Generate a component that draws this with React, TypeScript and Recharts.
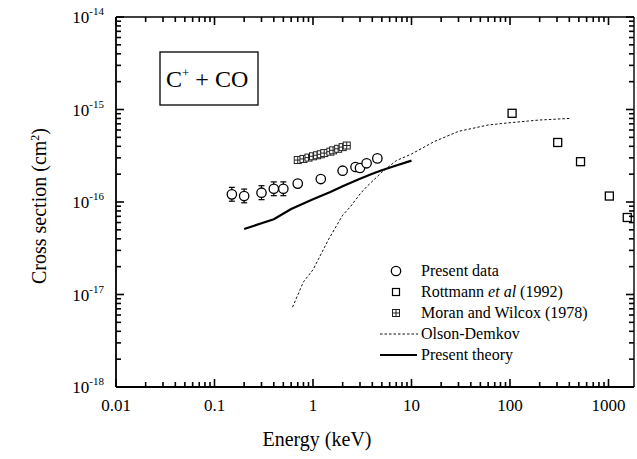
import React from "react";
import { ComposedChart, Scatter, XAxis, YAxis, ErrorBar, Legend } from "recharts";

const FONT = '"Liberation Serif", "Times New Roman", serif';

// Present data (open circles), energy in keV, cross section in cm^2
const presentE = [0.15, 0.2, 0.3, 0.4, 0.5, 0.7, 1.2, 2, 2.7, 3, 3.5, 4.5];
const presentSigma = [
  1.21e-16, 1.16e-16, 1.26e-16, 1.39e-16, 1.39e-16, 1.58e-16, 1.77e-16,
  2.18e-16, 2.39e-16, 2.33e-16, 2.62e-16, 2.96e-16,
];
// error bars only on the first five points
const presentErrLow = [0.19e-16, 0.18e-16, 0.2e-16, 0.22e-16, 0.22e-16];
const presentErrHigh = [0.23e-16, 0.22e-16, 0.24e-16, 0.26e-16, 0.26e-16];

// Rottmann et al (1992)
const rottmannE = [105, 305, 520, 1020, 1550];
const rottmannSigma = [9.1e-16, 4.4e-16, 2.73e-16, 1.16e-16, 6.8e-17];

// Moran and Wilcox (1978)
const moranE = [0.7, 0.8, 0.9, 1.0, 1.1, 1.2, 1.3, 1.5, 1.6, 1.8, 2.0, 2.2];
const moranSigma = [
  2.84e-16, 2.92e-16, 3.02e-16, 3.12e-16, 3.2e-16, 3.28e-16, 3.38e-16,
  3.5e-16, 3.62e-16, 3.76e-16, 3.92e-16, 4.08e-16,
];

// Olson-Demkov (dotted)
const olsonE = [0.62, 0.8, 1.0, 1.43, 2, 2.4, 3, 3.5, 5, 7, 10, 17, 30, 60, 100, 200, 400];
const olsonSigma = [
  7.3e-18, 1.37e-17, 1.85e-17, 3.9e-17, 7.2e-17, 8.9e-17, 1.22e-16, 1.46e-16,
  2.1e-16, 2.8e-16, 3.3e-16, 4.5e-16, 5.8e-16, 6.8e-16, 7.2e-16, 7.7e-16, 8.0e-16,
];

// Present theory (solid)
const theoryE = [0.2, 0.3, 0.4, 0.6, 1, 1.5, 2, 3, 4, 5, 7, 10];
const theorySigma = [
  5.1e-17, 5.9e-17, 6.5e-17, 8.4e-17, 1.07e-16, 1.28e-16, 1.48e-16, 1.78e-16,
  2.02e-16, 2.2e-16, 2.48e-16, 2.8e-16,
];

const xDecades = [-2, -1, 0, 1, 2, 3];
const yDecades = [-18, -17, -16, -15, -14];

const X_MIN = 0.01;
const X_MAX = 1815;
const Y_MIN = 1e-18;
const Y_MAX = 1e-14;

// chart geometry
const W = 637;
const H = 459;
const MARGIN = { top: 16, right: 2, bottom: 42, left: 56 };
const X_AXIS_H = 30;
const Y_AXIS_W = 60;
const PLOT = {
  left: MARGIN.left + Y_AXIS_W,
  right: W - MARGIN.right - 1,
  top: MARGIN.top + 1,
  bottom: H - MARGIN.bottom - X_AXIS_H,
};

const zip = (xs: number[], ys: number[]) => xs.map((x, i) => ({ x, y: ys[i] }));

const presentData = presentE.map((x, i) => ({
  x,
  y: presentSigma[i],
  err: i < presentErrLow.length ? [presentErrLow[i], presentErrHigh[i]] : undefined,
}));
const presentWithErr = presentData.slice(0, presentErrLow.length);
const presentNoErr = presentData.slice(presentErrLow.length);
const rottmannData = zip(rottmannE, rottmannSigma);
const moranData = zip(moranE, moranSigma);
const olsonData = zip(olsonE, olsonSigma);
const theoryData = zip(theoryE, theorySigma);

const logTicks = (decades: number[], max: number) => {
  const out: number[] = [];
  decades.forEach((k) => {
    for (let m = 1; m < 10; m++) {
      const v = m * Math.pow(10, k);
      if (v <= max * 1.0001) out.push(v);
    }
  });
  return out;
};
const xTicks = logTicks(xDecades, X_MAX);
const yTicks = logTicks(yDecades, Y_MAX);
const xMajor = xDecades.map((k) => Math.pow(10, k));
const yMajor = yDecades.map((k) => Math.pow(10, k));

const isDecade = (v: number) => {
  const l = Math.log10(v);
  return Math.abs(l - Math.round(l)) < 1e-6;
};
const fmtX = (v: number) => {
  const k = Math.round(Math.log10(v));
  return k < 0 ? Math.pow(10, k).toFixed(-k) : String(Math.pow(10, k));
};

// log mapping matching the axes above, used only for the inward tick marks
const xPix = (v: number) =>
  PLOT.left +
  ((Math.log10(v) - Math.log10(X_MIN)) / (Math.log10(X_MAX) - Math.log10(X_MIN))) * (PLOT.right - PLOT.left);
const yPix = (v: number) =>
  PLOT.bottom -
  ((Math.log10(v) - Math.log10(Y_MIN)) / (Math.log10(Y_MAX) - Math.log10(Y_MIN))) * (PLOT.bottom - PLOT.top);

const XLabel = (props: any) =>
  isDecade(props.payload.value) ? (
    <text x={props.x} y={Number(props.y) + 24} textAnchor="middle" fontFamily={FONT} fontSize={17} fill="#000">
      {fmtX(props.payload.value)}
    </text>
  ) : (
    <g />
  );

const YLabel = (props: any) =>
  isDecade(props.payload.value) ? (
    <text x={Number(props.x) - 12} y={Number(props.y) + 6} textAnchor="end" fontFamily={FONT} fontSize={17} fill="#000">
      10
      <tspan dy={-8} fontSize={11}>
        {String(Math.round(Math.log10(props.payload.value)))}
      </tspan>
    </text>
  ) : (
    <g />
  );

const Circle = (p: any) => (
  <circle cx={p.cx} cy={p.cy} r={4.7} fill="#fff" stroke="#000" strokeWidth={1.3} />
);
const Square = (p: any) => (
  <rect x={p.cx - 4} y={p.cy - 4} width={8} height={8} fill="#fff" stroke="#000" strokeWidth={1.3} />
);
const BoxPlus = (p: any) => (
  <g stroke="#222" strokeWidth={1} fill="#fff">
    <rect x={p.cx - 3.5} y={p.cy - 3.5} width={7} height={7} />
    <line x1={p.cx} x2={p.cx} y1={p.cy - 3.5} y2={p.cy + 3.5} />
    <line x1={p.cx - 3.5} x2={p.cx + 3.5} y1={p.cy} y2={p.cy} />
  </g>
);
const NoDot = () => <g />;

const legendRows = [
  { label: "Present data", kind: "circle" },
  { label: "Rottmann", italic: " et al", rest: " (1992)", kind: "square" },
  { label: "Moran and Wilcox (1978)", kind: "boxplus" },
  { label: "Olson-Demkov", kind: "dotted" },
  { label: "Present theory", kind: "solid" },
];

const LegendBox = () => (
  <svg width={250} height={110} style={{ overflow: "visible" }}>
    {legendRows.map((r, i) => {
      const cy = 13 + i * 21;
      let sym: React.ReactNode = null;
      if (r.kind === "circle") sym = <Circle cx={20} cy={cy} />;
      if (r.kind === "square") sym = <rect x={16.5} y={cy - 3.5} width={7} height={7} fill="#fff" stroke="#000" strokeWidth={1.2} />;
      if (r.kind === "boxplus") sym = <BoxPlus cx={20} cy={cy} />;
      if (r.kind === "dotted")
        sym = <line x1={4} x2={42} y1={cy} y2={cy} stroke="#111" strokeWidth={1} strokeDasharray="2.5 2" />;
      if (r.kind === "solid") sym = <line x1={4} x2={41} y1={cy} y2={cy} stroke="#000" strokeWidth={2.2} />;
      return (
        <g key={r.label}>
          {sym}
          <text x={45} y={cy + 5} fontFamily={FONT} fontSize={16} fill="#000">
            {r.label}
            {r.italic && <tspan fontStyle="italic">{r.italic}</tspan>}
            {r.rest}
          </text>
        </g>
      );
    })}
  </svg>
);

const tickLen = (v: number) => (isDecade(v) ? 8 : 5);

export default function App() {
  return (
    <div style={{ position: "absolute", left: 0, top: 0, width: W, height: H, background: "#fff" }}>
      <ComposedChart width={W} height={H} margin={MARGIN}>
        <XAxis
          xAxisId="b"
          dataKey="x"
          type="number"
          scale="log"
          domain={[X_MIN, X_MAX]}
          ticks={xMajor}
          interval={0}
          height={X_AXIS_H}
          tickSize={0}
          tickMargin={0}
          tick={XLabel}
          axisLine={{ stroke: "#000", strokeWidth: 1.8 }}
          tickLine={false}
        />
        <XAxis
          xAxisId="t"
          dataKey="x"
          orientation="top"
          type="number"
          scale="log"
          domain={[X_MIN, X_MAX]}
          ticks={xMajor}
          height={1}
          tick={false}
          axisLine={{ stroke: "#000", strokeWidth: 1.4 }}
          tickLine={false}
        />
        <YAxis
          yAxisId="l"
          dataKey="y"
          type="number"
          scale="log"
          domain={[Y_MIN, Y_MAX]}
          ticks={yMajor}
          interval={0}
          width={Y_AXIS_W}
          tickSize={0}
          tickMargin={0}
          tick={YLabel}
          axisLine={{ stroke: "#000", strokeWidth: 1.8 }}
          tickLine={false}
        />
        <YAxis
          yAxisId="r"
          dataKey="y"
          orientation="right"
          type="number"
          scale="log"
          domain={[Y_MIN, Y_MAX]}
          ticks={yMajor}
          width={1}
          tick={false}
          axisLine={{ stroke: "#000", strokeWidth: 1.4 }}
          tickLine={false}
        />

        {/* invisible series so the top and right frame axes get a domain */}
        <Scatter xAxisId="t" yAxisId="r" data={olsonData} shape={NoDot} isAnimationActive={false} />

        <Scatter
          xAxisId="b"
          yAxisId="l"
          data={olsonData}
          line={{ stroke: "#111", strokeWidth: 1, strokeDasharray: "2.5 2" }}
          shape={NoDot}
          isAnimationActive={false}
        />
        <Scatter
          xAxisId="b"
          yAxisId="l"
          data={theoryData}
          line={{ stroke: "#000", strokeWidth: 2.2 }}
          shape={NoDot}
          isAnimationActive={false}
        />
        <Scatter xAxisId="b" yAxisId="l" data={moranData} shape={BoxPlus} isAnimationActive={false} />
        <Scatter xAxisId="b" yAxisId="l" data={rottmannData} shape={Square} isAnimationActive={false} />
        <Scatter xAxisId="b" yAxisId="l" data={presentWithErr} shape={Circle} isAnimationActive={false}>
          <ErrorBar dataKey="err" direction="y" width={3} stroke="#000" strokeWidth={1.2} isAnimationActive={false} />
        </Scatter>
        <Scatter xAxisId="b" yAxisId="l" data={presentNoErr} shape={Circle} isAnimationActive={false} />

        <Legend
          layout="vertical"
          align="center"
          verticalAlign="middle"
          content={LegendBox}
          wrapperStyle={{ position: "absolute", left: 376, top: 258, width: 250, height: 110 }}
        />
      </ComposedChart>

      <svg width={W} height={H} style={{ position: "absolute", left: 0, top: 0, pointerEvents: "none" }}>
        {/* inward tick marks on all four sides */}
        {xTicks.map((v) => (
          <g key={`x${v}`}>
            <line x1={xPix(v)} x2={xPix(v)} y1={PLOT.bottom} y2={PLOT.bottom - tickLen(v)} stroke="#000" strokeWidth={1.6} />
            <line x1={xPix(v)} x2={xPix(v)} y1={PLOT.top} y2={PLOT.top + tickLen(v)} stroke="#000" strokeWidth={1.6} />
          </g>
        ))}
        {yTicks.map((v) => (
          <g key={`y${v}`}>
            <line x1={PLOT.left} x2={PLOT.left + tickLen(v)} y1={yPix(v)} y2={yPix(v)} stroke="#000" strokeWidth={1.6} />
            <line x1={PLOT.right} x2={PLOT.right - tickLen(v)} y1={yPix(v)} y2={yPix(v)} stroke="#000" strokeWidth={1.6} />
          </g>
        ))}

        <rect x={160} y={52} width={98} height={53} fill="none" stroke="#000" strokeWidth={1.3} />
        <text x={166} y={87} fontFamily={FONT} fontSize={24} fill="#000">
          C
          <tspan dy={-10} fontSize={13}>+</tspan>
          <tspan dy={10}> + CO</tspan>
        </text>
        <text x={317} y={446} textAnchor="middle" fontFamily={FONT} fontSize={20} fill="#000">
          Energy  (keV)
        </text>
        <text
          transform="translate(46,206) rotate(-90)"
          textAnchor="middle"
          fontFamily={FONT}
          fontSize={20}
          fill="#000"
        >
          Cross section  (cm
          <tspan dy={-7} fontSize={12}>2</tspan>
          <tspan dy={7}>)</tspan>
        </text>
      </svg>
    </div>
  );
}
